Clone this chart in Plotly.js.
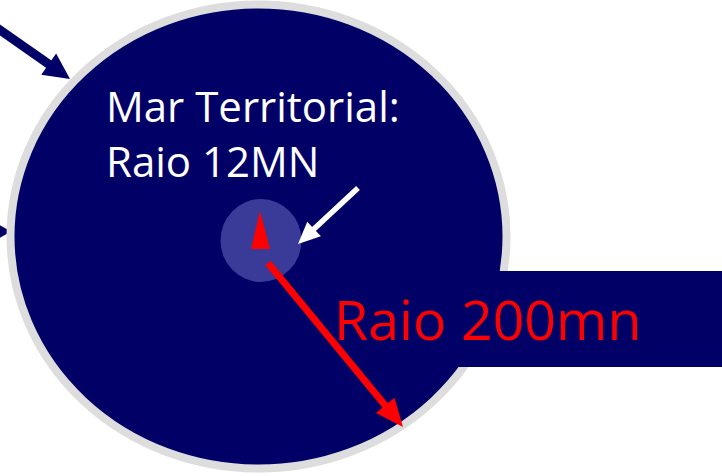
<!DOCTYPE html>
<html>
<head>
<meta charset="utf-8">
<script src="https://cdn.plot.ly/plotly-3.0.1.min.js"></script>
<style>html,body{margin:0;padding:0;background:#fff;}#plot{width:722px;height:476px;}</style>
</head>
<body>
<div id="plot"></div>
<script>
// Text labels of the diagram
const labels = ["Mar Territorial:<br>Raio 12MN", "Raio 200mn"];
const labelColors = ["#FFFFFF", "#FF0000"];

// Colours
const NAVY = "#000066", RING = "#DDDDDD", INNER = "#3A3A99", RED = "#FF0000", WHITE = "#FFFFFF";

// Geometry (pixel coordinates, y downward)
const bigCircle = {cx: 258.5, cy: 236.5, rx: 248, ry: 232, ring: 8};
const innerCircle = {cx: 261, cy: 240.5, rx: 40.5, ry: 41.5};
const band = {x0: 400, x1: 730, y0: 271, y1: 367};

function arrow(tail, tip, shaftW, headL, headW, color) {
  const dx = tip[0] - tail[0], dy = tip[1] - tail[1];
  const L = Math.hypot(dx, dy), ux = dx / L, uy = dy / L, px = -uy, py = ux;
  const bx = tip[0] - ux * headL, by = tip[1] - uy * headL;
  const sx = tip[0] - ux * (headL - 2), sy = tip[1] - uy * (headL - 2);
  return [
    {type: "line", x0: tail[0], y0: tail[1], x1: sx, y1: sy, line: {color: color, width: shaftW}, layer: "above"},
    {type: "path", path: `M${tip[0]},${tip[1]} L${bx + px * headW},${by + py * headW} L${bx - px * headW},${by - py * headW} Z`,
     fillcolor: color, line: {width: 0}, layer: "above"}
  ];
}

const shapes = [];
// dark arrows from the left
shapes.push(...arrow([-10, 23], [70, 79], 9, 26, 13, NAVY));
shapes.push({type: "path", path: "M-2,224 L11,231.5 L-2,239 Z", fillcolor: NAVY, line: {width: 0}, layer: "above"});
// big circle (EEZ)
shapes.push({type: "circle", x0: bigCircle.cx - bigCircle.rx, x1: bigCircle.cx + bigCircle.rx,
  y0: bigCircle.cy - bigCircle.ry, y1: bigCircle.cy + bigCircle.ry,
  fillcolor: NAVY, line: {color: RING, width: bigCircle.ring}, layer: "above"});
// label band
shapes.push({type: "rect", x0: band.x0, x1: band.x1, y0: band.y0, y1: band.y1, fillcolor: NAVY, line: {width: 0}, layer: "above"});
// inner circle (territorial sea)
shapes.push({type: "circle", x0: innerCircle.cx - innerCircle.rx, x1: innerCircle.cx + innerCircle.rx,
  y0: innerCircle.cy - innerCircle.ry, y1: innerCircle.cy + innerCircle.ry,
  fillcolor: INNER, line: {width: 0}, layer: "above"});
// red triangle marker
shapes.push({type: "path", path: "M260,211 L251,249 L270,249 Z", fillcolor: RED, line: {width: 0}, layer: "above"});
// white arrow
shapes.push(...arrow([358, 188], [298, 244], 5.5, 22, 10, WHITE));
// red arrow
shapes.push(...arrow([268, 263], [403, 427], 7, 28, 12, RED));

const annotations = [
  {x: 104, y: 133, text: labels[0], font: {family: "Open Sans", size: 42, color: labelColors[0]}, align: "left"},
  {x: 332, y: 318.5, text: labels[1], font: {family: "Open Sans", size: 55.5, color: labelColors[1]}, align: "left"}
].map(a => Object.assign({xref: "x", yref: "y", showarrow: false, xanchor: "left", yanchor: "middle"}, a));

Plotly.newPlot("plot", [{x: [0, 722], y: [0, 476], mode: "markers", marker: {opacity: 0}, hoverinfo: "skip", showlegend: false}], {
  width: 722, height: 476,
  margin: {l: 0, r: 0, t: 0, b: 0, pad: 0},
  paper_bgcolor: "#FFFFFF", plot_bgcolor: "#FFFFFF",
  xaxis: {range: [0, 722], visible: false, fixedrange: true},
  yaxis: {range: [476, 0], visible: false, fixedrange: true},
  shapes: shapes,
  annotations: annotations,
  showlegend: false
}, {displayModeBar: false, staticPlot: true});
</script>
</body>
</html>
